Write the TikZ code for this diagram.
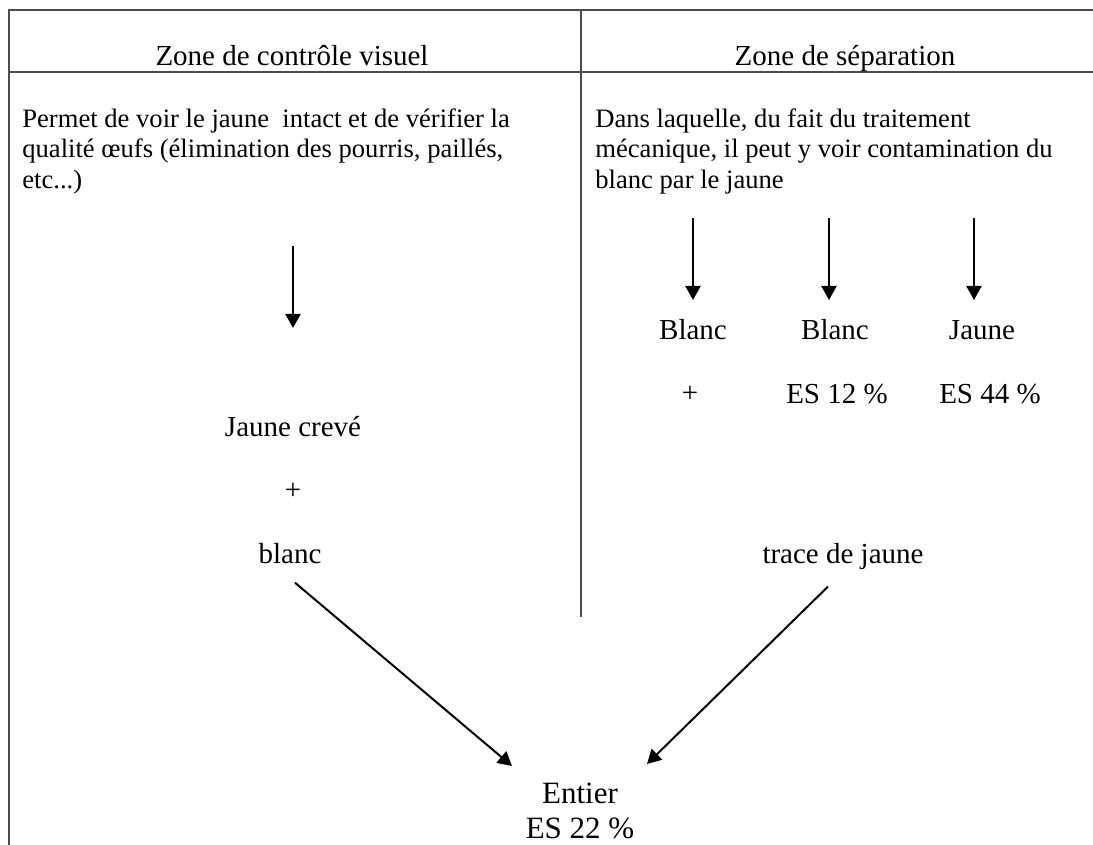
\documentclass[tikz,border=0pt]{standalone}
\usepackage{fontspec}
\setmainfont{Liberation Serif}
\usetikzlibrary{arrows.meta, positioning}

\begin{document}
\begin{tikzpicture}[
  x=0.5pt, y=-0.5pt,
  frame/.style={line width=1pt, black!70},
  head/.style={font=\fontsize{14.5}{17}\selectfont, anchor=base, inner sep=0pt},
  body/.style={font=\fontsize{13.3}{14.6}\selectfont, align=left,
               anchor=north west, inner sep=0pt},
  lbl/.style={font=\fontsize{14.5}{17}\selectfont, anchor=base, inner sep=0pt},
  big/.style={font=\fontsize{15.5}{18}\selectfont, anchor=base, inner sep=0pt},
  arrow/.style={-{Triangle[length=7pt, width=7.5pt]}, line width=1pt}
]
  \useasboundingbox (0,0) rectangle (1093,845);

  % table frame
  \coordinate (tl) at (9,10);
  \coordinate (tr) at (1093,10);
  \coordinate (bl) at (9,845);
  \draw[frame] (tr) -- (tl) -- (bl);
  \draw[frame] (9,72) -- (1093,72);
  \draw[frame] (581,10) -- (581,617);

  % headers
  \node[head] (hvis) at (292,66) {Zone de contrôle visuel};
  \node[head] (hsep) at (845,66) {Zone de séparation};

  % descriptions
  \node[body] (dvis) at (22,108)
        {Permet de voir le jaune~ intact et de vérifier la\\[0.8pt]
         qualité œufs (élimination des pourris, paillés,\\[0.8pt]
         etc...)};
  \node[body] (dsep) at (595,108)
        {Dans laquelle, du fait du traitement\\[0.8pt]
         mécanique, il peut y voir contamination du\\[0.8pt]
         blanc par le jaune};

  % visual control column
  \coordinate (vtop) at (293,246);
  \coordinate (vtip) at (293,328);
  \node[lbl] (crev) at (293,437) {Jaune crevé};
  \node[lbl] (plusv) at (293,499) {+};
  \node[lbl] (blv) at (290,563) {blanc};

  % separation column
  \foreach \x/\n in {693/a, 829/b, 974/c} {
    \coordinate (stop\n) at (\x,218);
    \coordinate (stip\n) at (\x,300);
    \draw[arrow] (stop\n) -- (stip\n);
  }
  \node[lbl] (blsa) at (693,340) {Blanc};
  \node[lbl] (blsb) at (835,340) {Blanc};
  \node[lbl] (jns)  at (982,340) {Jaune};
  \node[lbl] (pluss) at (690,402) {+};
  \node[lbl] (es12) at (837,403) {ES 12 \%};
  \node[lbl] (es44) at (990,403) {ES 44 \%};
  \node[lbl] (trace) at (843,563) {trace de jaune};

  % result
  \node[big] (ent) at (580,803) {Entier};
  \node[big] (es22) at (580,838) {ES 22 \%};

  % arrows
  \coordinate (inl) at (512,766);
  \coordinate (inr) at (647,764);
  \draw[arrow] (vtop) -- (vtip);
  \draw[arrow] ([xshift=2.5pt, yshift=-9.5pt]blv.south) -- (inl);
  \draw[arrow] ([xshift=-7.5pt, yshift=-8.5pt]trace.south) -- (inr);
\end{tikzpicture}
\end{document}
